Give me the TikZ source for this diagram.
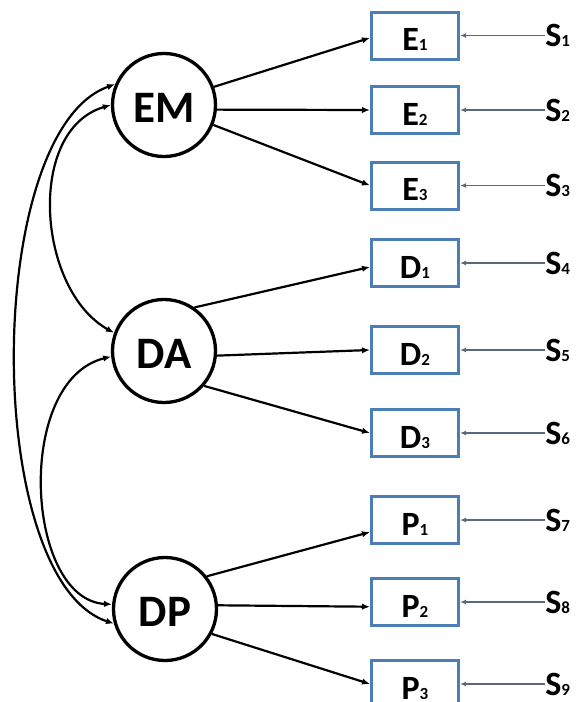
\documentclass[tikz,border=0pt]{standalone}
\usepackage{fontspec}
\setmainfont{Carlito}
\usetikzlibrary{arrows.meta}
\newcommand\sbs[1]{{\fontsize{8.5}{9}\selectfont #1}}
\definecolor{boxblue}{RGB}{74,126,181}
\definecolor{errgray}{RGB}{90,104,124}

\begin{document}
\begin{tikzpicture}[x=0.5pt,y=-0.5pt,
lat/.style={circle,draw,line width=1.65pt,minimum size=51.5pt,inner sep=0pt,font=\fontsize{22.5}{24}\selectfont\bfseries,text height=17pt,text depth=0pt},
obs/.style={draw=boxblue,line width=1.5pt,minimum width=43.5pt,minimum height=23.5pt,inner sep=0pt,font=\fontsize{17}{18}\selectfont\bfseries,text height=15.3pt,text depth=0pt},
err/.style={inner sep=0pt,font=\fontsize{17}{18}\selectfont\bfseries,text height=11pt,text depth=0pt},
load/.style={line width=1.1pt,-{Latex[length=4pt,width=3.2pt]}},
cov/.style={line width=1.1pt,{Latex[length=4pt,width=3.2pt]}-{Latex[length=4pt,width=3.2pt]}},
errarr/.style={draw=errgray,line width=0.85pt,-{Latex[length=3pt,width=2.4pt]}}]
 \useasboundingbox (0,0) rectangle (576,702);
 % latent factors
 \node[lat] (EM) at (164,105) {EM};
 \node[lat] (DA) at (164,351) {DA};
 \node[lat] (DP) at (165,609) {DP};
 % indicators and their error terms
 \foreach \n/\l/\s/\y [count=\k] in {E1/E/1/35.5,E2/E/2/110,E3/E/3/185.5,D1/D/1/263,D2/D/2/350,D3/D/3/433,P1/P/1/520,P2/P/2/602,P3/P/3/684}
 {\node[obs] (\n) at (415,\y) {\l\sbs{\s}};
 \node[err,anchor=west] (S\k) at (545,\y) {S\sbs{\k}};
 \draw[errarr] (S\k.west) -- (\n.east);}
 % loadings
 \foreach \a/\b/\c/\d in {EM/20/E1/183,EM/-5/E2/180,EM/-22/E3/180,DA/55/D1/185,DA/-5/D2/180,DA/-41/D3/180,DP/38/P1/195,DP/4/P2/186,DP/-28/P3/180}
 \draw[load] (\a.\b) -- (\c.\d);
 % covariances
 \draw[cov] (EM.157) .. controls +(-132,47) and +(-132,-44) .. (DP.196);
 \draw[cov] (EM.180) .. controls +(-85,25) and +(-77,-43) .. (DA.160);
 \draw[cov] (DA.186) .. controls +(-97,24) and +(-87,-5) .. (DP.175);
\end{tikzpicture}
\end{document}
